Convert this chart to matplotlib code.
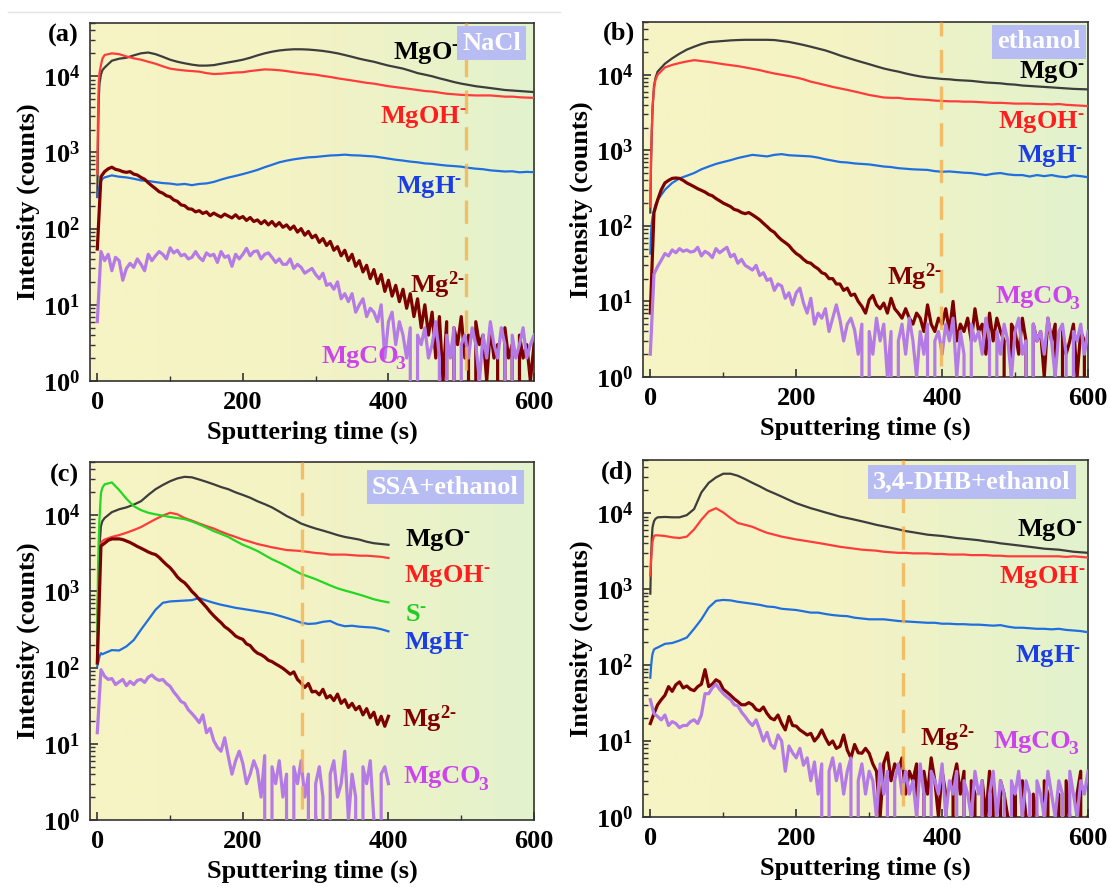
import matplotlib
matplotlib.use("Agg")
import matplotlib.pyplot as plt
import numpy as np
from matplotlib.colors import LinearSegmentedColormap
from matplotlib.lines import Line2D
from matplotlib.ticker import LogLocator, MultipleLocator, NullFormatter

plt.rcParams["font.family"] = ["Liberation Serif", "DejaVu Serif"]
plt.rcParams["font.weight"] = "bold"
plt.rcParams["font.size"] = 19
plt.rcParams["mathtext.fontset"] = "custom"
plt.rcParams["mathtext.rm"] = "Liberation Serif:bold"
plt.rcParams["mathtext.bf"] = "Liberation Serif:bold"
plt.rcParams["mathtext.it"] = "Liberation Serif:bold:italic"
plt.rcParams["mathtext.default"] = "bf"

# sample times (s): smooth traces on a coarse grid, noisy traces every 5 s
t_smooth = [0, 1, 2, 3, 5, 7] + list(range(10, 610, 10))
t_noisy = list(range(0, 605, 5))
t_smooth_c = [0, 1, 2, 3, 5, 7] + list(range(10, 410, 10))
t_noisy_c = list(range(0, 405, 5))

# ---------------- (a) NaCl ----------------
a_mgo = [260, 1500, 5000, 8000, 10500, 12000,
         13000, 16000, 17000, 17500, 18800, 20000, 20500, 19500, 18000, 16500,
         15500, 14800, 14200, 13800, 13800, 14000, 14600, 15200, 15800, 16500,
         17500, 18800, 20000, 21000, 21800, 22300, 22600, 22600, 22400, 22000,
         21500, 20800, 20000, 19000, 18000, 17000, 16200, 15500, 14600, 13800,
         13200, 12600, 11800, 11000, 10500, 10000, 9400, 8900, 8400, 8000,
         7700, 7400, 7200, 7000, 6800, 6600, 6500, 6400, 6300, 6200]
a_mgoh = [520, 3000, 8000, 11000, 14000, 17000,
          19000, 20000, 19500, 18200, 17200, 16500, 15500, 14600, 13500, 12600,
          12200, 11900, 11700, 11500, 11000, 10700, 10800, 11000, 11200, 11300,
          11700, 12000, 12300, 12200, 12000, 11700, 11300, 11000, 10700, 10500,
          10100, 9800, 9400, 9100, 8800, 8500, 8200, 8000, 7700, 7400,
          7200, 7000, 6800, 6600, 6400, 6300, 6100, 5900, 5800, 5700,
          5650, 5600, 5600, 5600, 5500, 5400, 5400, 5300, 5250, 5200]
a_mgh = [260, 300, 330, 350, 420, 450,
         470, 500, 480, 470, 452, 430, 422, 408, 396, 390,
         378, 386, 372, 386, 392, 410, 440, 468, 492, 520,
         552, 590, 640, 688, 742, 780, 812, 838, 862, 872,
         892, 912, 920, 935, 918, 912, 898, 886, 858, 830,
         802, 782, 758, 742, 718, 708, 688, 672, 662, 650,
         628, 612, 602, 582, 572, 562, 566, 548, 556, 550]
a_mg2 = [54, 480, 560, 610, 640, 600, 585, 560, 548, 560,
         520, 505, 470, 445, 400, 365, 335, 305, 292, 270,
         262, 238, 228, 205, 200, 182, 180, 166, 172, 158,
         166, 148, 160, 150, 142, 155, 146, 138, 152, 136,
         144, 128, 140, 124, 130, 116, 127, 112, 124, 108,
         120, 104, 112, 98, 108, 90, 100, 82, 92, 76,
         82, 66, 74, 60, 68, 52, 58, 44, 52, 38,
         46, 32, 38, 27, 33, 22, 29, 19, 25, 15,
         21, 13, 18, 11, 16, 9, 14, 7, 12, 5,
         10, 4, 8, 2, 7, 1, 6, 0, 5, 3,
         7, 2, 4, 0, 6, 3, 4, 1, 5, 2,
         3, 0, 5, 2, 3, 0, 4, 2, 3, 1,
         3]
a_mgco3 = [6, 50, 38, 46, 28, 42, 38, 21, 30, 35,
           31, 40, 34, 28, 46, 38, 44, 50, 46, 40,
           56, 48, 52, 44, 46, 40, 42, 50, 42, 38,
           48, 44, 46, 36, 50, 42, 44, 32, 46, 40,
           46, 55, 44, 50, 51, 40, 46, 48, 42, 36,
           40, 34, 34, 40, 30, 34, 31, 26, 28, 30,
           25, 22, 26, 18, 19, 16, 20, 12, 14, 11,
           14, 8, 10, 12, 7, 9, 8, 6, 10, 2,
           6, 8, 3, 6, 4, 2, 5, 0, 4, 3,
           5, 2, 3, 6, 2, 0, 4, 2, 5, 0,
           3, 4, 2, 5, 3, 1, 4, 2, 6, 3,
           2, 5, 3, 0, 4, 2, 3, 5, 2, 3,
           4]

# ---------------- (b) ethanol ----------------
b_mgo = [150, 700, 1700, 3500, 7000, 9000,
         11000, 14000, 16500, 19000, 21500, 23500, 25500, 27000, 27500, 28000,
         28500, 28800, 29000, 29000, 29000, 29000, 28800, 28000, 27200, 26000,
         24800, 23500, 22200, 21000, 19500, 18000, 16800, 15700, 14700, 13800,
         12900, 12100, 11500, 11000, 10400, 9900, 9500, 9200, 9000, 8800,
         8700, 8500, 8400, 8300, 8100, 7900, 7800, 7700, 7500, 7400,
         7200, 7100, 7000, 6900, 6800, 6700, 6600, 6500, 6450, 6400]
b_mgoh = [180, 750, 1800, 3700, 6500, 8500,
          10000, 12500, 13500, 14300, 15000, 15600, 15200, 14800, 14300, 13800,
          13400, 13000, 12500, 12000, 11500, 10900, 10400, 10000, 9600, 9200,
          8700, 8100, 7700, 7300, 6900, 6600, 6300, 6000, 5700, 5400,
          5200, 5000, 4950, 4950, 4800, 4750, 4700, 4650, 4550, 4500,
          4450, 4450, 4400, 4400, 4350, 4300, 4250, 4250, 4200, 4150,
          4150, 4150, 4100, 4100, 4050, 4100, 4000, 3950, 3900, 3850]
b_mgh = [43, 80, 110, 130, 160, 190,
         220, 300, 370, 425, 460, 500, 560, 610, 660, 700,
         740, 790, 830, 870, 850, 830, 870, 890, 860, 850,
         840, 830, 800, 760, 730, 700, 690, 670, 660, 650,
         630, 610, 600, 580, 570, 560, 555, 550, 530, 520,
         525, 515, 505, 500, 485, 470, 490, 500, 480, 470,
         470, 450, 470, 455, 470, 450, 440, 465, 455, 440]
b_mg2 = [7, 150, 220, 300, 370, 400, 425, 430, 425, 400,
         370, 350, 330, 310, 295, 280, 260, 250, 230, 215,
         200, 190, 180, 165, 160, 150, 145, 150, 140, 130,
         120, 108, 98, 88, 82, 72, 65, 60, 55, 48,
         43, 40, 36, 33, 32, 29, 27, 24, 23, 20,
         20, 17, 17, 14, 15, 12, 12.5, 10, 8.6, 7,
         10.5, 12, 9, 8, 9.5, 7, 11, 8, 7, 6,
         8, 6, 5, 7, 6, 4, 9, 5, 4, 6,
         5, 8, 4, 10, 3, 5, 4, 6, 3, 8,
         4, 5, 2, 7, 3, 6, 4, 3, 0, 5,
         4, 2, 6, 3, 0, 5, 3, 4, 1, 6,
         3, 5, 0, 4, 2, 3, 5, 1, 4, 3,
         0]
b_mgco3 = [2, 23, 29, 35, 43, 40, 48, 44, 50, 46,
           48, 45, 46, 52, 40, 46, 43, 38, 50, 44,
           48, 52, 39, 42, 32, 36, 30, 28, 26, 30,
           22, 24, 19, 20, 14, 17, 16, 11, 13, 9,
           13, 15, 9.5, 7, 11, 5, 7, 6, 8, 4,
           6, 9, 5.7, 3, 5, 6, 4.2, 2, 5, 0,
           4, 2, 6, 3, 5, 1, 4, 0, 3, 5,
           2, 6, 3, 1, 4, 2, 5, 0, 3, 4,
           2, 5, 3, 6, 1, 4, 2, 0, 5, 3,
           4, 2, 6, 3, 0, 4, 2, 5, 3, 1,
           4, 6, 2, 3, 0, 5, 3, 4, 2, 6,
           3, 1, 4, 5, 2, 0, 4, 3, 5, 2,
           4]

# ---------------- (c) SSA+ethanol ----------------
c_mgo = [126, 800, 1800, 4000, 7200, 8400,
         9200, 11000, 12000, 12700, 13800, 15300, 18500, 22000, 25000, 28000,
         30500, 32000, 31500, 29500, 27500, 25500, 23500, 22000, 20000, 18500,
         17000, 15300, 14000, 12700, 11200, 9800, 8800, 7800, 7200, 6700,
         6300, 5900, 5500, 5200, 5000, 4800, 4500, 4300, 4200, 4100]
c_mgoh = [290, 1000, 1800, 3000, 4300, 4600,
          4800, 5200, 5500, 5900, 6400, 7000, 7900, 8900, 9900, 10800,
          10300, 9200, 8500, 7800, 7200, 6700, 6100, 5600, 5200, 4800,
          4500, 4200, 4000, 3800, 3650, 3500, 3450, 3400, 3300, 3200,
          3150, 3050, 3050, 3050, 3000, 2950, 2950, 2900, 2850, 2750]
c_s = [290, 2000, 4800, 9000, 19600, 23000,
       25500, 27000, 21500, 16500, 13200, 11700, 10800, 10300, 9900, 9500,
       9200, 8900, 8300, 7600, 6900, 6200, 5700, 5200, 4600, 4100,
       3750, 3400, 3000, 2650, 2400, 2150, 1900, 1700, 1570, 1450,
       1320, 1200, 1100, 1030, 970, 910, 850, 790, 750, 720]
c_mgh = [105, 115, 126, 140, 155, 150,
         155, 170, 168, 190, 230, 315, 425, 575, 710, 740,
         750, 760, 770, 820, 760, 710, 670, 640, 610, 590,
         570, 550, 530, 510, 480, 450, 420, 390, 375, 380,
         400, 410, 370, 350, 355, 345, 340, 335, 320, 300]
c_mg2 = [115, 3950, 4300, 4700, 4900, 4900, 4900, 4800, 4600, 4400,
         4150, 3900, 3700, 3500, 3300, 3150, 3050, 2800, 2500, 2250,
         2050, 1800, 1550, 1400, 1300, 1150, 1000, 900, 790, 700,
         620, 540, 480, 430, 390, 345, 320, 290, 260, 245,
         235, 205, 195, 170, 155, 148, 138, 125, 120, 112,
         105, 98, 90, 82, 88, 70, 63, 55, 62, 48,
         49, 44, 52, 40, 43, 37, 45, 34, 38, 30,
         34, 28, 31, 24, 29, 22, 26, 18, 23, 17,
         23]
c_mgco3 = [14, 94, 77, 70, 72, 60, 65, 70, 58, 66,
           60, 68, 70, 64, 75, 80, 72, 68, 70, 62,
           57, 48, 42, 36, 34, 28, 25, 22, 19, 24,
           14, 16, 11, 9, 8, 12, 6.8, 4, 6, 8,
           5.5, 3, 4, 6, 4.5, 2, 7, 0, 5, 3,
           6, 2, 4, 0, 5, 3, 6, 2, 4, 0,
           3, 5, 2, 0, 4, 6, 2, 3, 8, 1,
           4, 2, 0, 5, 3, 6, 1, 0, 4, 5,
           3]

# ---------------- (d) 3,4-DHB+ethanol ----------------
d_mgo = [870, 2500, 4500, 6500, 7800, 8400,
         8800, 8900, 8800, 8800, 9400, 11300, 18700, 25000, 29500, 33000,
         33000, 31000, 28000, 25000, 22500, 20000, 18200, 16500, 14900, 13500,
         12500, 11600, 10900, 10200, 9600, 9000, 8600, 8200, 7800, 7400,
         7000, 6700, 6400, 6100, 5800, 5600, 5400, 5200, 5100, 5000,
         4850, 4700, 4600, 4500, 4400, 4250, 4150, 4000, 3900, 3800,
         3700, 3600, 3500, 3400, 3350, 3300, 3200, 3100, 3050, 3000]
d_mgoh = [1500, 2400, 3300, 4200, 5000, 5100,
          5100, 5000, 4800, 4700, 4900, 6100, 8200, 10500, 11600, 10200,
          8600, 7400, 7000, 6600, 6000, 5500, 5200, 4900, 4700, 4500,
          4350, 4200, 4050, 3900, 3750, 3600, 3500, 3400, 3300, 3250,
          3200, 3100, 3050, 3000, 3000, 2950, 2950, 2950, 2900, 2900,
          2850, 2850, 2850, 2800, 2800, 2800, 2750, 2750, 2700, 2700,
          2700, 2700, 2700, 2700, 2700, 2700, 2650, 2700, 2650, 2600]
d_mgh = [68, 95, 120, 140, 160, 165,
         170, 190, 195, 210, 230, 300, 400, 570, 700, 720,
         710, 680, 660, 640, 620, 590, 580, 550, 540, 530,
         510, 490, 490, 470, 455, 445, 440, 420, 410, 400,
         400, 400, 390, 380, 375, 370, 365, 360, 360, 350,
         350, 345, 345, 340, 340, 335, 330, 335, 320, 310,
         310, 305, 300, 300, 295, 300, 290, 285, 280, 270]
d_mg2 = [17, 23, 30, 35, 40, 52, 45, 55, 60, 50,
         53, 48, 46, 52, 56, 87, 52, 56, 64, 60,
         48, 44, 40, 36, 33, 30, 30, 32, 30, 26,
         25, 28, 23, 20, 19, 22, 17, 14, 21, 16,
         15.7, 14, 13, 12, 12.6, 10, 11.4, 14, 11, 9,
         10, 8, 8.5, 12, 7.6, 6, 9, 7, 6.9, 8,
         6.9, 5, 4, 1, 5.1, 7, 3, 5, 4, 6,
         2, 4, 3, 5, 0, 4, 2, 6, 3, 1,
         4, 2, 0, 3, 5, 2, 4, 0, 3, 2,
         0, 3, 1, 4, 2, 0, 3, 2, 1, 0,
         2, 0, 3, 1, 0, 2, 1, 0, 3, 2,
         0, 1, 2, 0, 3, 1, 0, 2, 4, 0,
         1]
d_mgco3 = [35, 23, 21, 19, 22, 16, 18, 17, 15, 16,
           16, 18, 19, 17, 22, 42, 42, 50, 56, 48,
           42, 38, 35, 30, 29, 24, 21, 18, 16, 19,
           14, 10, 13, 9, 8, 12, 10, 4, 8.6, 7,
           6, 8, 4.8, 6, 3, 5.3, 2, 5, 0, 4,
           6, 3, 5, 2, 4, 6, 0, 3, 5, 2,
           4, 3, 1, 5, 2, 4, 0, 3, 5, 2,
           4, 2, 3, 1, 5, 2, 0, 4, 3, 2,
           5, 1, 3, 2, 4, 0, 3, 2, 1, 4,
           2, 3, 0, 2, 4, 1, 3, 2, 0, 3,
           2, 4, 1, 3, 2, 0, 3, 2, 1, 4,
           2, 1, 3, 2, 0, 4, 2, 1, 3, 2,
           4]

# vertical marker times and sample names
dash_times = [506, 398, 281, 346]
samples = ["NaCl", "ethanol", "SSA+ethanol", "3,4-DHB+ethanol"]
letters = ["(a)", "(b)", "(c)", "(d)"]

line_colors = {"MgO": "#3d3d3d", "MgOH": "#ff3c3c", "MgH": "#1f6fe0",
               "S": "#22d822", "Mg2": "#7d0000", "MgCO3": "#b47ae6"}
label_colors = {"MgO": "black", "MgOH": "#ff1e1e", "MgH": "#1a3de6",
                "S": "#22cc22", "Mg2": "#800000", "MgCO3": "#cc44ee"}
label_text = {"MgO": r"MgO$^{\text{-}}$", "MgOH": r"MgOH$^{\text{-}}$",
              "MgH": r"MgH$^{\text{-}}$", "S": r"S$^{\text{-}}$",
              "Mg2": r"Mg$^{\text{2-}}$", "MgCO3": "MgCO"}

panels = [
    dict(pos=[0.0811, 0.5729, 0.400, 0.4013], letter_xy=(63, 35), box_xy=(0.905, 0.944),
         smooth=[("MgO", t_smooth, a_mgo), ("MgOH", t_smooth, a_mgoh), ("MgH", t_smooth, a_mgh)],
         noisy=[("Mg2", t_noisy, a_mg2), ("MgCO3", t_noisy, a_mgco3)],
         labels=[("MgO", 406, 20400), ("MgOH", 389, 2900), ("MgH", 411, 350),
                 ("Mg2", 430, 18), ("MgCO3", 308, 2.1)]),
    dict(pos=[0.5793, 0.5774, 0.4009, 0.398], letter_xy=(619, 33), box_xy=(0.89, 0.944),
         smooth=[("MgO", t_smooth, b_mgo), ("MgOH", t_smooth, b_mgoh), ("MgH", t_smooth, b_mgh)],
         noisy=[("Mg2", t_noisy, b_mg2), ("MgCO3", t_noisy, b_mgco3)],
         labels=[("MgO", 505, 11000), ("MgOH", 476, 2400), ("MgH", 503, 830),
                 ("Mg2", 325, 21), ("MgCO3", 473, 11.7)]),
    dict(pos=[0.0811, 0.0807, 0.400, 0.4013], letter_xy=(64, 475), box_xy=(0.80, 0.93),
         smooth=[("MgO", t_smooth_c, c_mgo), ("MgOH", t_smooth_c, c_mgoh),
                 ("S", t_smooth_c, c_s), ("MgH", t_smooth_c, c_mgh)],
         noisy=[("Mg2", t_noisy_c, c_mg2), ("MgCO3", t_noisy_c, c_mgco3)],
         labels=[("MgO", 423, 4800), ("MgOH", 421, 1600), ("S", 423, 500), ("MgH", 421, 210),
                 ("Mg2", 418, 21), ("MgCO3", 421, 3.7)]),
    dict(pos=[0.5793, 0.0841, 0.4009, 0.4002], letter_xy=(617, 472), box_xy=(0.739, 0.938),
         smooth=[("MgO", t_smooth, d_mgo), ("MgOH", t_smooth, d_mgoh), ("MgH", t_smooth, d_mgh)],
         noisy=[("Mg2", t_noisy, d_mg2), ("MgCO3", t_noisy, d_mgco3)],
         labels=[("MgO", 503, 6000), ("MgOH", 478, 1450), ("MgH", 500, 133),
                 ("Mg2", 369, 11), ("MgCO3", 471, 10)]),
]

bg_cmap = LinearSegmentedColormap.from_list(
    "bg", [(0.0, "#f7f4c4"), (0.45, "#f4f3c4"), (1.0, "#e2f2cd")])
gradient = np.linspace(0, 1, 256).reshape(1, -1)

fig = plt.figure(figsize=(11.1, 8.92), dpi=100)

for i, p in enumerate(panels):
    bg = fig.add_axes(p["pos"], zorder=0)
    bg.imshow(gradient, cmap=bg_cmap, aspect="auto", interpolation="bicubic")
    bg.axis("off")

    ax = fig.add_axes(p["pos"], zorder=1)
    ax.patch.set_alpha(0)
    ax.set_yscale("log")

    for key, t, y in p["smooth"]:
        ax.plot(t, y, color=line_colors[key], lw=1.6, zorder=3)
    for key, t, y in p["noisy"]:
        ax.plot(t, y, color=line_colors[key], lw=2.3, zorder=3)

    ax.axvline(dash_times[i], ymin=0.03, ymax=1, color="#f5b050", alpha=0.8,
               lw=2.4, ls=(0, (7, 4)), zorder=5)

    ax.set_xlim(-10, 600)
    ax.set_ylim(1, 5e4)
    ax.xaxis.set_major_locator(MultipleLocator(200))
    ax.xaxis.set_minor_locator(MultipleLocator(100))
    ax.yaxis.set_major_locator(LogLocator(base=10, numticks=10))
    ax.yaxis.set_minor_locator(LogLocator(base=10, subs=np.arange(2, 10), numticks=20))
    ax.yaxis.set_minor_formatter(NullFormatter())
    ax.tick_params(which="both", direction="in", top=False, right=False, color="#333333")
    ax.tick_params(which="major", length=6, width=1.2, labelsize=19, pad=7)
    ax.tick_params(which="minor", length=3.5, width=1.0)
    for s in ax.spines.values():
        s.set_color("#333333")
        s.set_linewidth(1.2)

    ax.set_xlabel("Sputtering time (s)", fontsize=19, fontweight="bold", labelpad=5)
    ax.set_ylabel("Intensity (counts)", fontsize=19, fontweight="bold", labelpad=2)

    for key, x, y in p["labels"]:
        txt = ax.text(x, y, label_text[key], color=label_colors[key], fontsize=19,
                      fontweight="bold", ha="left", va="center", zorder=6)
        if key == "MgCO3":
            # subscript 3, dropped well below the baseline as in the original
            ax.annotate("3", xy=(1, 0), xycoords=txt, xytext=(-2.5, -1),
                        textcoords="offset points", ha="left", va="baseline",
                        color=label_colors[key], fontsize=14, fontweight="bold",
                        zorder=6)

    ax.text(p["box_xy"][0], p["box_xy"][1], samples[i], transform=ax.transAxes,
            ha="center", va="center", color="white", fontsize=19, fontweight="bold",
            zorder=7, bbox=dict(boxstyle="square,pad=0.2", fc="#b7bdf3", ec="none"))

    lx, ly = p["letter_xy"]
    fig.text(lx / 1110, 1 - ly / 892, letters[i], ha="center", va="center",
             fontsize=19, fontweight="bold")

fig.add_artist(Line2D([8 / 1110, 560 / 1110], [1 - 12 / 892, 1 - 12 / 892],
                      color="#e4e4e4", lw=1))

fig.savefig("out.png", dpi=100)
